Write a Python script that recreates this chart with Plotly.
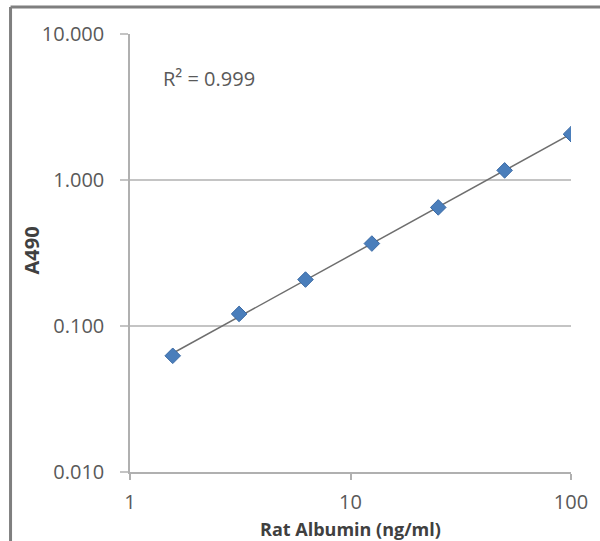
import numpy as np
import plotly.graph_objects as go

# Data
concentration = [1.5625, 3.125, 6.25, 12.5, 25, 50, 100]
a490 = [0.0625, 0.121, 0.208, 0.367, 0.649, 1.164, 2.06]
y_tickvals = [0.01, 0.1, 1, 10]
y_ticktext = ["0.010", "0.100", "1.000", "10.000"]
x_tickvals = [1, 10, 100]
x_ticktext = ["1", "10", "100"]
r2_text = "R² = 0.999"
x_title = "Rat Albumin (ng/ml)"
y_title = "A490"

# power trendline fit
lx = np.log10(concentration)
ly = np.log10(a490)
b, a = np.polyfit(lx, ly, 1)
fit_x = np.array([concentration[0], concentration[-1]])
fit_y = 10 ** (a + b * np.log10(fit_x))

W, H = 600, 541
L, R, T, B = 130, 27, 34, 69
pw, ph = W - L - R, H - T - B

def px(xp):
    return (xp - L) / pw

def py(yp):
    return (H - B - yp) / ph

FONT = "Open Sans, Arial, sans-serif"

fig = go.Figure()
fig.add_trace(go.Scatter(x=fit_x, y=fit_y, mode="lines",
                         line=dict(color="#6e6e6e", width=1.5),
                         hoverinfo="skip", showlegend=False))
fig.add_trace(go.Scatter(x=concentration, y=a490, mode="markers",
                         marker=dict(symbol="diamond", size=12, color="#4a7ebb",
                                     line=dict(color="#3a6aa5", width=1)),
                         showlegend=False))

tickfont = dict(family=FONT, size=20, color="#595959")

fig.update_xaxes(type="log", range=[0, 2], tickvals=x_tickvals, ticktext=x_ticktext,
                 showgrid=False, showline=True, linecolor="#b0b0b0", linewidth=1.5,
                 ticks="outside", ticklen=6, tickcolor="#b0b0b0", tickwidth=1.5,
                 ticklabelstandoff=5, tickfont=tickfont, zeroline=False)
fig.update_yaxes(type="log", range=[-2, 1], tickvals=y_tickvals, ticktext=y_ticktext,
                 showgrid=True, gridcolor="#c4c4c4", gridwidth=1.5,
                 showline=True, linecolor="#b0b0b0", linewidth=1.5,
                 ticks="outside", ticklen=8, tickcolor="#c4c4c4", tickwidth=1.5,
                 ticklabelstandoff=12, tickfont=tickfont, zeroline=False)

fig.add_annotation(text=r2_text, xref="paper", yref="paper", x=px(161), y=py(78),
                   xanchor="left", yanchor="middle", showarrow=False,
                   font=dict(family=FONT, size=20, color="#595959"))
fig.add_annotation(text="<b>" + x_title + "</b>", xref="paper", yref="paper",
                   x=px(351), y=py(529), xanchor="center", yanchor="middle", showarrow=False,
                   font=dict(family=FONT, size=18, color="#404040"))
fig.add_annotation(text="<b>" + y_title + "</b>", xref="paper", yref="paper",
                   x=px(31), y=py(250), xanchor="center", yanchor="middle", showarrow=False,
                   textangle=-90,
                   font=dict(family=FONT, size=20, color="#404040"))

# frame (left and top border of the figure box)
fig.add_shape(type="line", xref="paper", yref="paper", x0=px(10), x1=px(10),
              y0=py(7), y1=py(545), line=dict(color="#7f7f7f", width=3))
fig.add_shape(type="line", xref="paper", yref="paper", x0=px(10), x1=px(605),
              y0=py(7), y1=py(7), line=dict(color="#7f7f7f", width=3))

fig.update_layout(width=W, height=H, margin=dict(l=L, r=R, t=T, b=B),
                  paper_bgcolor="white", plot_bgcolor="white", showlegend=False)

fig.write_html("out.html", config={"displayModeBar": False},
               post_script="document.body.style.margin='0';document.body.style.overflow='hidden';")
